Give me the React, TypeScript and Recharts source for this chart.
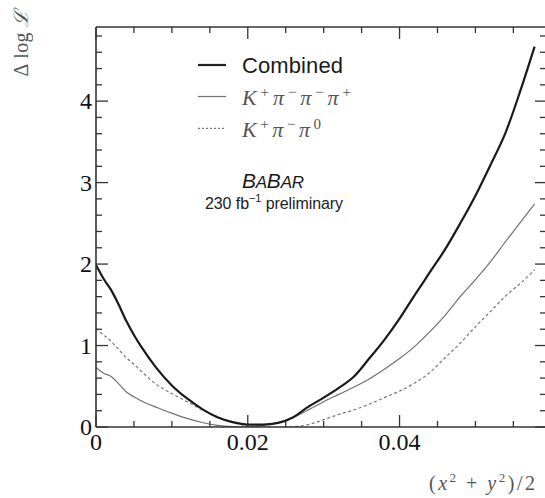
import React from "react";
import { LineChart, Line, XAxis, YAxis } from "recharts";

// x = (x^2 + y^2)/2
const xValues = [
  0, 0.001, 0.002, 0.003, 0.004, 0.005, 0.006, 0.008, 0.01, 0.012, 0.014, 0.016,
  0.018, 0.02, 0.022, 0.024, 0.026, 0.028, 0.03, 0.032, 0.034, 0.036, 0.038, 0.04,
  0.042, 0.044, 0.046, 0.048, 0.05, 0.052, 0.054, 0.056, 0.0578,
];
const combined = [
  1.99, 1.82, 1.68, 1.5, 1.3, 1.13, 0.98, 0.72, 0.51, 0.35, 0.22, 0.12,
  0.06, 0.03, 0.03, 0.05, 0.12, 0.25, 0.36, 0.48, 0.62, 0.84, 1.07, 1.33,
  1.62, 1.9, 2.18, 2.5, 2.84, 3.22, 3.62, 4.15, 4.67,
];
const k3pi = [
  0.73, 0.66, 0.62, 0.53, 0.43, 0.37, 0.32, 0.24, 0.17, 0.105, 0.055, 0.02,
  0.004, 0.0, 0.02, 0.055, 0.12, 0.21, 0.31, 0.4, 0.49, 0.59, 0.71, 0.84,
  0.99, 1.17, 1.37, 1.6, 1.81, 2.03, 2.28, 2.52, 2.74,
];
const kpipi0 = [
  1.21, 1.13, 1.05, 0.95, 0.85, 0.77, 0.68, 0.52, 0.41, 0.31, 0.21, 0.125,
  0.06, 0.012, 0.0, 0.0, 0.005, 0.03, 0.09, 0.155, 0.21, 0.28, 0.36, 0.44,
  0.54, 0.67, 0.85, 1.03, 1.23, 1.42, 1.61, 1.77, 1.93,
];

const xMajorTicks = [0, 0.02, 0.04];
const xTickLabels = ["0", "0.02", "0.04"];
const xMinorTicks = [0.005, 0.01, 0.015, 0.025, 0.03, 0.035, 0.045, 0.05, 0.055];
const yMajorTicks = [0, 1, 2, 3, 4];
const yTickLabels = ["0", "1", "2", "3", "4"];
const yMinorTicks = [
  0.2, 0.4, 0.6, 0.8, 1.2, 1.4, 1.6, 1.8, 2.2, 2.4, 2.6, 2.8, 3.2, 3.4, 3.6, 3.8,
  4.2, 4.4, 4.6, 4.8,
];
const X_DOMAIN = [0, 0.0593];
const Y_DOMAIN = [0, 4.91];

const data = xValues.map((x, i) => ({
  x,
  combined: combined[i],
  k3pi: k3pi[i],
  kpipi0: kpipi0[i],
}));

const allXTicks = [...xMajorTicks, ...xMinorTicks].sort((a, b) => a - b);
const allYTicks = [...yMajorTicks, ...yMinorTicks].sort((a, b) => a - b);

const TICK_COLOR = "#333";
const MAJOR = 12;
const MINOR = 6;
const SERIF = "'Liberation Serif', 'Times New Roman', serif";
const SANS = "'Liberation Sans', Arial, sans-serif";

const majorIndex = (list: number[], v: number) =>
  list.findIndex((m) => Math.abs(m - v) < 1e-9);

const BottomTick = (props: any) => {
  const { x, y, payload } = props;
  const idx = majorIndex(xMajorTicks, payload.value);
  const len = idx >= 0 ? MAJOR : MINOR;
  return (
    <g>
      <line x1={x} x2={x} y1={y} y2={y - len} stroke={TICK_COLOR} strokeWidth={1.3} />
      {idx >= 0 && (
        <text x={x} y={y + 23} textAnchor="middle" fontFamily={SERIF} fontSize={24} fill="#111">
          {xTickLabels[idx]}
        </text>
      )}
    </g>
  );
};

const TopTick = (props: any) => {
  const { x, y, payload } = props;
  const idx = majorIndex(xMajorTicks, payload.value);
  const len = idx >= 0 ? MAJOR : MINOR;
  return <line x1={x} x2={x} y1={y} y2={y + len} stroke={TICK_COLOR} strokeWidth={1.3} />;
};

const LeftTick = (props: any) => {
  const { x, y, payload } = props;
  const idx = majorIndex(yMajorTicks, payload.value);
  const len = idx >= 0 ? MAJOR : MINOR;
  return (
    <g>
      <line x1={x} x2={x + len} y1={y} y2={y} stroke={TICK_COLOR} strokeWidth={1.3} />
      {idx >= 0 && (
        <text x={x - 4} y={y + 8} textAnchor="end" fontFamily={SERIF} fontSize={24} fill="#111">
          {yTickLabels[idx]}
        </text>
      )}
    </g>
  );
};

const RightTick = (props: any) => {
  const { x, y, payload } = props;
  const idx = majorIndex(yMajorTicks, payload.value);
  const len = idx >= 0 ? MAJOR - 1 : MINOR;
  return <line x1={x} x2={x - len} y1={y} y2={y} stroke={TICK_COLOR} strokeWidth={1.3} />;
};

const axisLine = { stroke: "#333", strokeWidth: 1.6 };

export default function App() {
  return (
    <div
      style={{
        position: "fixed",
        left: 0,
        top: 0,
        width: 545,
        height: 498,
        overflow: "hidden",
        background: "#fff",
      }}
    >
      <div style={{ position: "absolute", left: 0, top: 0 }}>
        <LineChart
          width={550}
          height={498}
          data={data}
          margin={{ top: 26, right: 3, bottom: 70, left: 95 }}
        >
          <XAxis
            dataKey="x"
            type="number"
            domain={X_DOMAIN}
            allowDataOverflow
            ticks={allXTicks}
            interval={0}
            height={1}
            tickSize={0}
            tickMargin={0}
            tickLine={false}
            axisLine={axisLine}
            tick={BottomTick}
          />
          <XAxis
            xAxisId="top"
            orientation="top"
            dataKey="x"
            type="number"
            domain={X_DOMAIN}
            allowDataOverflow
            ticks={allXTicks}
            interval={0}
            height={1}
            tickSize={0}
            tickMargin={0}
            tickLine={false}
            axisLine={axisLine}
            tick={TopTick}
          />
          <YAxis
            type="number"
            domain={Y_DOMAIN}
            allowDataOverflow
            ticks={allYTicks}
            interval={0}
            width={1}
            tickSize={0}
            tickMargin={0}
            tickLine={false}
            axisLine={axisLine}
            tick={LeftTick}
          />
          <YAxis
            yAxisId="right"
            orientation="right"
            type="number"
            domain={Y_DOMAIN}
            allowDataOverflow
            ticks={allYTicks}
            interval={0}
            width={1}
            tickSize={0}
            tickMargin={0}
            tickLine={false}
            axisLine={axisLine}
            tick={RightTick}
          />
          <Line
            type="monotone"
            dataKey="kpipi0"
            stroke="#777"
            strokeWidth={1.2}
            strokeDasharray="3 2.5"
            dot={false}
            isAnimationActive={false}
          />
          <Line
            type="monotone"
            dataKey="k3pi"
            stroke="#707070"
            strokeWidth={1.2}
            dot={false}
            isAnimationActive={false}
          />
          <Line
            type="monotone"
            dataKey="combined"
            stroke="#1a1a1a"
            strokeWidth={2.2}
            dot={false}
            isAnimationActive={false}
          />
        </LineChart>
      </div>
      <svg
        width={545}
        height={498}
        style={{ position: "absolute", left: 0, top: 0, pointerEvents: "none" }}
      >
        {/* legend */}
        <line x1={198} x2={226} y1={65} y2={65} stroke="#222" strokeWidth={2.2} />
        <text x={242} y={72.5} fontFamily={SANS} fontSize={22} fill="#1a1a1a" textLength={101} lengthAdjust="spacing">
          Combined
        </text>
        <line x1={198} x2={226} y1={96.5} y2={96.5} stroke="#707070" strokeWidth={1.2} />
        <text x={242} y={105} fontFamily={SERIF} fontSize={22} fill="#555" fontStyle="italic" textLength={109} lengthAdjust="spacing">
          <tspan>K</tspan>
          <tspan dy={-8} fontSize={15} fontStyle="normal">+</tspan>
          <tspan dy={8}>π</tspan>
          <tspan dy={-8} fontSize={15} fontStyle="normal">−</tspan>
          <tspan dy={8}>π</tspan>
          <tspan dy={-8} fontSize={15} fontStyle="normal">−</tspan>
          <tspan dy={8}>π</tspan>
          <tspan dy={-8} fontSize={15} fontStyle="normal">+</tspan>
        </text>
        <line x1={198} x2={226} y1={128.3} y2={128.3} stroke="#777" strokeWidth={1.2} strokeDasharray="2 2" />
        <text x={242} y={137} fontFamily={SERIF} fontSize={22} fill="#555" fontStyle="italic" textLength={79} lengthAdjust="spacing">
          <tspan>K</tspan>
          <tspan dy={-8} fontSize={15} fontStyle="normal">+</tspan>
          <tspan dy={8}>π</tspan>
          <tspan dy={-8} fontSize={15} fontStyle="normal">−</tspan>
          <tspan dy={8}>π</tspan>
          <tspan dy={-8} fontSize={15} fontStyle="normal">0</tspan>
        </text>
        {/* BABAR label */}
        <text x={242} y={188} fontFamily={SANS} fontStyle="italic" fill="#1a1a1a" fontSize={21} textLength={62} lengthAdjust="spacing">
          <tspan>B</tspan>
          <tspan fontSize={17}>A</tspan>
          <tspan>B</tspan>
          <tspan fontSize={17}>AR</tspan>
        </text>
        <text x={205} y={209} fontFamily={SANS} fontSize={16} fill="#222" textLength={138} lengthAdjust="spacing">
          <tspan>230 fb</tspan>
          <tspan dy={-7} fontSize={11}>−1</tspan>
          <tspan dy={7}> preliminary</tspan>
        </text>
        {/* axis titles */}
        <text
          x={28}
          y={43}
          transform="rotate(-90 28 43)"
          textAnchor="middle"
          fontFamily={SERIF}
          fontSize={20}
          fill="#555"
          textLength={67}
          lengthAdjust="spacing"
        >
          <tspan fontStyle="normal">Δ log </tspan>
          <tspan fontStyle="italic">ℒ</tspan>
        </text>
        <text x={429} y={490} fontFamily={SERIF} fontSize={20} fill="#555" textLength={106} lengthAdjust="spacing">
          <tspan>(</tspan>
          <tspan fontStyle="italic">x</tspan>
          <tspan dy={-8} fontSize={13}>2</tspan>
          <tspan dy={8}> + </tspan>
          <tspan fontStyle="italic">y</tspan>
          <tspan dy={-8} fontSize={13}>2</tspan>
          <tspan dy={8}>)/2</tspan>
        </text>
      </svg>
    </div>
  );
}
